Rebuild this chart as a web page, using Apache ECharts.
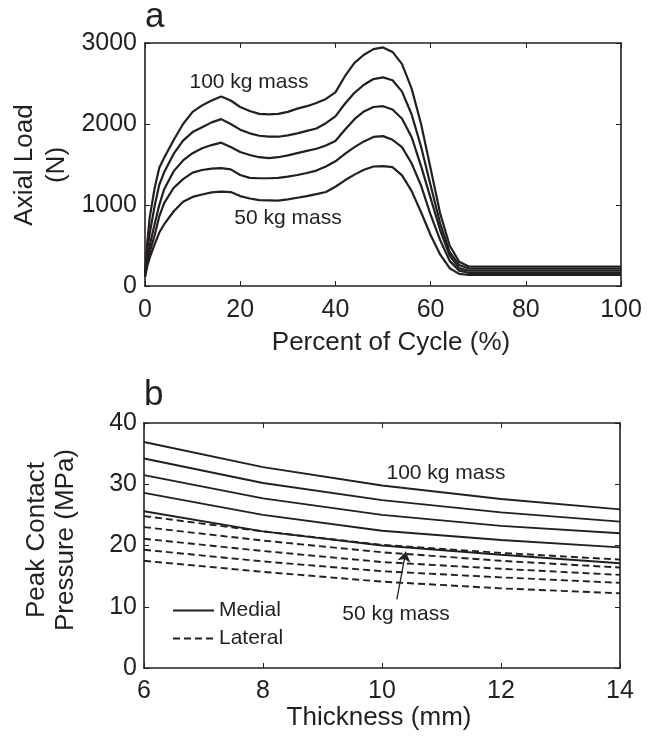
<!DOCTYPE html>
<html>
<head>
<meta charset="utf-8">
<script src="https://cdn.jsdelivr.net/npm/echarts@6/dist/echarts.min.js"></script>
<style>html,body{margin:0;padding:0;background:#fff;}#c{width:659px;height:740px;}</style>
</head>
<body>
<div id="c"></div>
<script>
// ---- Panel a: axial load vs percent of cycle ----
var cycleX = [0, 0.5, 1, 2, 3, 4, 6, 8, 10, 12, 14, 16, 18, 20, 22, 24, 26, 28, 30, 32, 34, 36, 38, 40, 42, 44, 46, 48, 50, 52, 54, 56, 58, 60, 62, 64, 66, 68, 100];
var load100 = [150, 550, 850, 1200, 1460, 1580, 1800, 2000, 2150, 2230, 2290, 2340, 2290, 2210, 2160, 2125, 2120, 2125, 2150, 2190, 2220, 2260, 2310, 2390, 2590, 2755, 2855, 2925, 2945, 2890, 2740, 2440, 2000, 1450, 897, 500, 300, 240, 240];
var load875 = [140, 450, 650, 980, 1250, 1400, 1630, 1795, 1900, 1960, 2020, 2060, 2000, 1930, 1885, 1855, 1843, 1843, 1860, 1885, 1915, 1945, 2010, 2095, 2250, 2385, 2485, 2555, 2575, 2540, 2400, 2120, 1720, 1245, 774, 420, 260, 215, 213];
var load75 = [130, 350, 500, 760, 1000, 1190, 1415, 1550, 1640, 1700, 1740, 1770, 1715, 1655, 1617, 1590, 1578, 1590, 1612, 1640, 1668, 1695, 1735, 1790, 1930, 2060, 2155, 2210, 2220, 2180, 2065, 1840, 1480, 1085, 691, 375, 220, 188, 188];
var load625 = [120, 300, 420, 620, 860, 1020, 1210, 1320, 1400, 1432, 1450, 1455, 1440, 1370, 1335, 1330, 1330, 1335, 1350, 1370, 1395, 1425, 1475, 1540, 1630, 1715, 1785, 1840, 1850, 1805, 1715, 1515, 1240, 880, 568, 310, 190, 162, 162];
var load50 = [110, 250, 350, 510, 660, 760, 920, 1040, 1100, 1130, 1155, 1165, 1160, 1110, 1080, 1060, 1058, 1055, 1070, 1090, 1110, 1135, 1160, 1225, 1305, 1375, 1435, 1475, 1480, 1468, 1365, 1175, 910, 630, 390, 220, 150, 136, 136];
var loadTicks = [0, 1000, 2000, 3000];
var cycleTicks = [0, 20, 40, 60, 80, 100];

// ---- Panel b: peak contact pressure vs thickness ----
var thickness = [6, 8, 10, 12, 14];
var medial100 = [36.9, 32.8, 29.8, 27.6, 25.9];
var medial875 = [34.2, 30.2, 27.4, 25.4, 23.9];
var medial75 = [31.5, 27.7, 25.0, 23.2, 22.0];
var medial625 = [28.6, 25.0, 22.4, 20.9, 19.7];
var medial50 = [25.6, 22.3, 20.0, 18.5, 17.1];
var lateral100 = [24.8, 22.3, 20.1, 18.8, 17.7];
var lateral875 = [23.0, 20.8, 18.9, 17.5, 16.4];
var lateral75 = [21.1, 19.1, 17.3, 16.2, 15.2];
var lateral625 = [19.3, 17.4, 15.8, 14.8, 13.9];
var lateral50 = [17.5, 15.7, 14.1, 13.0, 12.2];
var pressureTicks = [0, 10, 20, 30, 40];
var thicknessTicks = [6, 8, 10, 12, 14];
var arrowTail = [10.25, 11.2];
var arrowHead = [10.40, 19.0];

var INK = '#231f20';
var FONT = "'Liberation Sans', Arial, Helvetica, sans-serif";

function pairs(xs, ys) { return xs.map(function (x, i) { return [x, ys[i]]; }); }

function lineSeries(name, xs, ys, xi, yi, dashed, width) {
  return {
    type: 'line', name: name, xAxisIndex: xi, yAxisIndex: yi,
    data: pairs(xs, ys), showSymbol: false, symbol: 'none', silent: true,
    lineStyle: { color: INK, width: width, type: dashed ? [7, 4] : 'solid' },
    itemStyle: { color: INK }
  };
}

function plain(v) { return String(v); }

function axisCommon(extra) {
  var a = {
    axisLine: { show: true, onZero: false, lineStyle: { color: INK, width: 1.6 } },
    axisTick: { show: true, inside: true, length: 5, lineStyle: { color: INK, width: 1 } },
    splitLine: { show: false },
    axisLabel: { show: true, color: INK, fontFamily: FONT, fontSize: 25, formatter: plain }
  };
  for (var k in extra) {
    if (typeof extra[k] === 'object' && a[k] && !Array.isArray(extra[k])) {
      for (var j in extra[k]) a[k][j] = extra[k][j];
    } else a[k] = extra[k];
  }
  return a;
}

var series = [];
[load100, load875, load75, load625, load50].forEach(function (d, i) {
  series.push(lineSeries('load' + i, cycleX, d, 0, 0, false, 2.2));
});
[medial100, medial875, medial75, medial625, medial50].forEach(function (d) {
  series.push(lineSeries('Medial', thickness, d, 2, 2, false, 1.9));
});
[lateral100, lateral875, lateral75, lateral625, lateral50].forEach(function (d) {
  series.push(lineSeries('Lateral', thickness, d, 2, 2, true, 1.9));
});
// arrow annotation drawn through the axes' scales
series[series.length - 1].markLine = {
  silent: true, symbol: ['none', 'arrow'], symbolSize: 10,
  label: { show: false },
  lineStyle: { color: INK, width: 1.3, type: 'solid' },
  data: [[{ coord: arrowTail }, { coord: arrowHead }]]
};

var option = {
  animation: false,
  backgroundColor: '#fff',
  textStyle: { fontFamily: FONT, color: INK },
  grid: [
    { left: 145, top: 43, width: 476, height: 243 },
    { left: 144, top: 423, width: 476, height: 245 }
  ],
  xAxis: [
    axisCommon({ type: 'value', gridIndex: 0, position: 'bottom', min: cycleTicks[0], max: cycleTicks[cycleTicks.length - 1], interval: 20, axisLabel: { margin: 12 } }),
    axisCommon({ type: 'value', gridIndex: 0, position: 'top', min: cycleTicks[0], max: cycleTicks[cycleTicks.length - 1], interval: 20, axisLabel: { show: false } }),
    axisCommon({ type: 'value', gridIndex: 1, position: 'bottom', min: thicknessTicks[0], max: thicknessTicks[thicknessTicks.length - 1], interval: 2, axisLabel: { margin: 11 } }),
    axisCommon({ type: 'value', gridIndex: 1, position: 'top', min: thicknessTicks[0], max: thicknessTicks[thicknessTicks.length - 1], interval: 2, axisLabel: { show: false } })
  ],
  yAxis: [
    axisCommon({ type: 'value', gridIndex: 0, position: 'left', min: loadTicks[0], max: loadTicks[loadTicks.length - 1], interval: 1000, axisLabel: { margin: 8, padding: [5, 0, 0, 0] } }),
    axisCommon({ type: 'value', gridIndex: 0, position: 'right', min: loadTicks[0], max: loadTicks[loadTicks.length - 1], interval: 1000, axisLabel: { show: false } }),
    axisCommon({ type: 'value', gridIndex: 1, position: 'left', min: pressureTicks[0], max: pressureTicks[pressureTicks.length - 1], interval: 10, axisLabel: { margin: 7, padding: [6, 0, 0, 0] } }),
    axisCommon({ type: 'value', gridIndex: 1, position: 'right', min: pressureTicks[0], max: pressureTicks[pressureTicks.length - 1], interval: 10, axisLabel: { show: false } })
  ],
  legend: {
    data: ['Medial', 'Lateral'],
    orient: 'vertical', left: 167, top: 595,
    itemWidth: 41, itemHeight: 14, itemGap: 7,
    selectedMode: false,
    itemStyle: { color: 'rgba(0,0,0,0)', borderWidth: 0, opacity: 0 },
    textStyle: { fontFamily: FONT, fontSize: 21, color: INK, lineHeight: 21 }
  },
  series: series,
  graphic: [
    { type: 'text', left: 145, top: 0, style: { text: 'a', font: "35px " + FONT, fill: INK } },
    { type: 'text', left: 144, top: 378, style: { text: 'b', font: "35px " + FONT, fill: INK } },
    { type: 'text', x: 41, y: 165, rotation: Math.PI / 2, style: { text: 'Axial Load\n(N)', font: "26px " + FONT, fill: INK, align: 'center', verticalAlign: 'middle', lineHeight: 32 } },
    { type: 'text', x: 51, y: 540, rotation: Math.PI / 2, style: { text: 'Peak Contact\nPressure (MPa)', font: "26px " + FONT, fill: INK, align: 'center', verticalAlign: 'middle', lineHeight: 29 } },
    { type: 'text', x: 391, y: 343, style: { text: 'Percent of Cycle (%)', font: "26px " + FONT, fill: INK, align: 'center', verticalAlign: 'middle' } },
    { type: 'text', x: 379, y: 718, style: { text: 'Thickness (mm)', font: "26px " + FONT, fill: INK, align: 'center', verticalAlign: 'middle' } },
    { type: 'text', x: 249, y: 82, style: { text: '100 kg mass', font: "21px " + FONT, fill: INK, align: 'center', verticalAlign: 'middle' } },
    { type: 'text', x: 288, y: 218, style: { text: '50 kg mass', font: "21px " + FONT, fill: INK, align: 'center', verticalAlign: 'middle' } },
    { type: 'text', x: 446, y: 473, style: { text: '100 kg mass', font: "21px " + FONT, fill: INK, align: 'center', verticalAlign: 'middle' } },
    { type: 'text', x: 396, y: 614, style: { text: '50 kg mass', font: "21px " + FONT, fill: INK, align: 'center', verticalAlign: 'middle' } }
  ]
};

var chart = echarts.init(document.getElementById('c'), null, { renderer: 'canvas' });
chart.setOption(option);
</script>
</body>
</html>
